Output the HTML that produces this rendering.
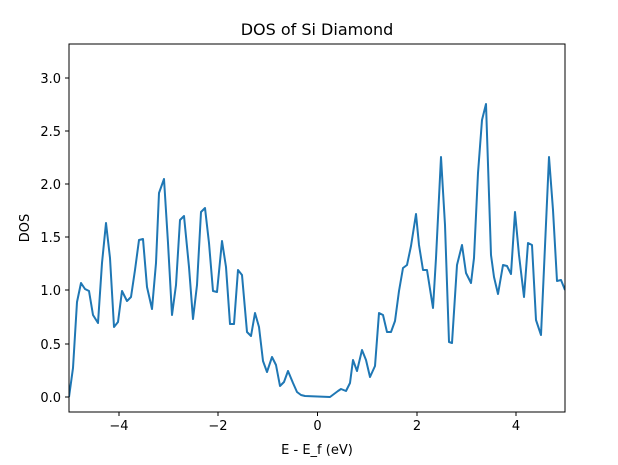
<!DOCTYPE html>
<html><head><style>body{margin:0;background:#fff}svg{display:block}text{font-family:"DejaVu Sans","Liberation Sans",sans-serif;fill:#000}</style></head>
<body>
<svg width="618" height="465" viewBox="0 0 618 465">
<rect width="618" height="465" fill="#fff"/>
<text x="317" y="35" font-size="16" text-anchor="middle">DOS of Si Diamond</text>
<clipPath id="c"><rect x="69" y="44" width="496" height="368"/></clipPath>
<polyline clip-path="url(#c)" fill="none" stroke="#1f77b4" stroke-width="2" stroke-linejoin="round" points="69,397 73,368 77,302 81,283 85,289 89,291 93,315 98,323 102,263 106,223 110,258 114,327 118,322 122,291 127,301 131,297 135,270 139,240 143,239 147,287 152,309 156,263 159,193 164,179 168,243 172,315 176,285 180,220 184,216 189,267 193,319 197,285 201,212 205,208 209,243 213,291 217,292 222,241 226,267 230,324 234,324 238,270 242,275 247,332 251,336 255,313 259,327 263,361 267,372 272,357 276,365 280,386 284,382 288,371 293,383 297,392 301,395 305,396 330,397 334,394 338,391 341,389 346,391 350,383 353,360 357,371 362,350 366,360 370,377 375,366 379,313 383,315 387,332 391,332 395,321 399,291 403,268 407,265 411,246 416,214 419,245 423,270 427,270 433,308 436,258 441,157 445,225 449,342 452,343 457,265 462,245 466,273 471,283 474,258 478,173 482,120 486,104 491,255 494,277 498,294 503,265 507,266 511,274 515,212 519,255 524,297 528,243 532,245 536,320 541,335 549,157 553,210 557,281 561,280 565,290"/>
<rect x="69" y="44" width="496" height="368" fill="none" stroke="#000" stroke-width="1"/>
<g stroke="#000" stroke-width="1">
<line x1="119" y1="412" x2="119" y2="416"/><line x1="218" y1="412" x2="218" y2="416"/><line x1="317.5" y1="412" x2="317.5" y2="416"/><line x1="417" y1="412" x2="417" y2="416"/><line x1="516" y1="412" x2="516" y2="416"/>
<line x1="65" y1="397" x2="69" y2="397"/><line x1="65" y1="344" x2="69" y2="344"/><line x1="65" y1="290" x2="69" y2="290"/><line x1="65" y1="237" x2="69" y2="237"/><line x1="65" y1="184" x2="69" y2="184"/><line x1="65" y1="131" x2="69" y2="131"/><line x1="65" y1="78" x2="69" y2="78"/>
</g>
<g font-size="13" text-anchor="middle">
<text x="119" y="430">−4</text><text x="218" y="430">−2</text><text x="317.5" y="430">0</text><text x="417" y="430">2</text><text x="516" y="430">4</text>
</g>
<g font-size="13" text-anchor="end">
<text x="61" y="402">0.0</text><text x="61" y="349">0.5</text><text x="61" y="295">1.0</text><text x="61" y="242">1.5</text><text x="61" y="189">2.0</text><text x="61" y="136">2.5</text><text x="61" y="83">3.0</text>
</g>
<text x="317" y="454" font-size="13" text-anchor="middle">E - E_f (eV)</text>
<text transform="translate(29,228) rotate(-90)" font-size="13" text-anchor="middle">DOS</text>
</svg>
</body></html>
